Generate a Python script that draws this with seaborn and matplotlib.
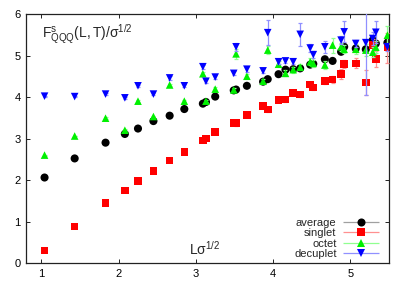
import numpy as np
import matplotlib
matplotlib.use("Agg")
import matplotlib.pyplot as plt
from matplotlib.legend_handler import HandlerErrorbar
import seaborn as sns

# L * sqrt(sigma) values
l_sigma = [1.04, 1.43, 1.83, 2.08, 2.25, 2.45, 2.66, 2.85, 3.09, 3.13,
           3.25, 3.49, 3.52, 3.66, 3.87, 3.93, 4.07, 4.16, 4.26, 4.35,
           4.48, 4.52, 4.67, 4.77, 4.88, 4.92, 5.07, 5.20, 5.29, 5.33, 5.48]

# F_QQQ / sqrt(sigma) per channel (nan = not visible)
average = [2.06, 2.52, 2.90, 3.11, 3.24, 3.42, 3.55, 3.71, 3.84, 3.88,
           4.01, 4.16, 4.18, 4.27, 4.37, 4.43, 4.55, 4.66, 4.67, 4.69,
           4.78, 4.80, 4.91, 4.87, 5.09, 5.21, 5.17, 5.15, 5.37, 5.29, 5.31]
average_err = [0.01, 0.01, 0.01, 0.01, 0.01, 0.01, 0.01, 0.01, 0.02, 0.02,
               0.02, 0.02, 0.02, 0.03, 0.03, 0.03, 0.03, 0.03, 0.03, 0.03,
               0.04, 0.04, 0.04, 0.04, 0.05, 0.05, 0.05, 0.06, 0.06, 0.07, 0.08]

singlet = [0.30, 0.88, 1.45, 1.75, 1.98, 2.21, 2.47, 2.68, 2.95, 3.00,
           3.15, 3.38, 3.37, 3.57, 3.78, 3.70, 3.93, 3.94, 4.10, 4.06,
           4.30, 4.23, 4.39, 4.42, 4.55, 4.79, 4.81, 4.35, 5.25, 4.92, 5.19]
singlet_err = [0.01, 0.01, 0.01, 0.01, 0.01, 0.01, 0.01, 0.02, 0.02, 0.02,
               0.02, 0.04, 0.08, 0.03, 0.04, 0.05, 0.05, 0.05, 0.05, 0.06,
               0.07, 0.07, 0.08, 0.08, 0.12, 0.10, 0.12, 0.30, 0.15, 0.20, 0.36]

octet = [2.60, 3.06, 3.49, 3.20, 3.90, 3.53, 4.29, 3.90, 4.56, 3.90,
         4.19, 4.17, 5.04, 4.50, 4.38, 5.13, 4.79, 4.57, 4.66, 4.72,
         4.85, 4.81, 4.77, 5.25, 5.21, 5.15, 5.15, 5.13, 5.08, 5.20, 5.49]
octet_err = [0.01, 0.01, 0.02, 0.02, 0.02, 0.02, 0.03, 0.03, 0.04, 0.03,
             0.04, 0.04, 0.12, 0.05, 0.05, 0.10, 0.07, 0.07, 0.07, 0.08,
             0.08, 0.08, 0.10, 0.18, 0.10, 0.10, 0.12, 0.15, 0.12, 0.15, 0.22]

decuplet = [4.02, 4.01, 4.07, 3.98, 4.27, 4.07, 4.46, 4.27, 4.73, 4.38,
            4.48, 4.57, 5.21, 4.67, 4.63, 5.55, 4.85, 4.87, 4.85, 5.51,
            5.18, 5.02, 5.21, np.nan, 5.37, 5.57, 5.29, 5.31, 5.41, 5.56, 5.21]
decuplet_err = [0.01, 0.01, 0.02, 0.02, 0.03, 0.03, 0.04, 0.04, 0.05, 0.05,
                0.05, 0.05, 0.10, 0.06, 0.06, 0.30, 0.06, 0.06, 0.06, 0.27,
                0.10, 0.08, 0.15, 0.0, 0.10, 0.25, 0.08, 1.26, 0.15, 0.26, 0.10]

series = [
    ("average", average, average_err, "o", "#000000", "#a0a0a0", 34),
    ("singlet", singlet, singlet_err, "s", "#ff0000", "#ff9090", 30),
    ("octet", octet, octet_err, "^", "#00f000", "#90ff90", 30),
    ("decuplet", decuplet, decuplet_err, "v", "#0000ff", "#9090ff", 30),
]

sns.set_theme(style="ticks")
plt.rcParams["font.family"] = ["Liberation Sans", "DejaVu Sans"]
plt.rcParams["mathtext.fontset"] = "custom"
plt.rcParams["mathtext.rm"] = "Liberation Sans"
plt.rcParams["mathtext.it"] = "Liberation Sans"

fig = plt.figure(figsize=(4.09, 2.86), dpi=100)
ax = fig.add_axes([0.0636, 0.0804, 0.8874, 0.8706])

handles = []
for i, (name, ys, errs, marker, color, ecolor, size) in enumerate(series):
    ax.errorbar(l_sigma, ys, yerr=errs, fmt="none", ecolor=ecolor,
                elinewidth=0.9, capsize=1.5, capthick=0.9, zorder=2 + 2 * i)
    sns.scatterplot(x=l_sigma, y=ys, marker=marker, color=color, s=size,
                    linewidth=0, edgecolor="none", zorder=3 + 2 * i, ax=ax,
                    legend=False)
    # proxy for gnuplot-style key entry
    proxy = ax.errorbar([np.nan], [np.nan], xerr=[1.0], fmt=marker,
                        color=color, ecolor=ecolor, markersize=5.8,
                        markeredgewidth=0, elinewidth=0.9, capsize=2,
                        label=name)
    handles.append(proxy)

ax.set_xlim(0.8, 5.5)
ax.set_ylim(0, 6)
ax.set_xticks([1, 2, 3, 4, 5])
ax.set_yticks([0, 1, 2, 3, 4, 5, 6])
ax.tick_params(direction="in", length=3, width=0.7, labelsize=8,
               top=True, right=True, pad=4, colors="#222222",
               labelcolor="black")
for spine in ax.spines.values():
    spine.set_linewidth(0.9)
    spine.set_color("#222222")

ax.text(0.044, 0.905, r"$\mathrm{F^{s}_{QQQ}(L,T)/\sigma^{1/2}}$",
        transform=ax.transAxes, fontsize=10, va="baseline", ha="left")
ax.text(0.449, 0.032, r"$\mathrm{L\sigma^{1/2}}$",
        transform=ax.transAxes, fontsize=10, va="baseline", ha="left")

ax.legend(handles=handles, loc="lower right", bbox_to_anchor=(0.975, 0.015),
          frameon=False, markerfirst=False, fontsize=8, handlelength=3.4,
          handletextpad=0.5, labelspacing=0.05, borderpad=0, borderaxespad=0,
          handler_map={type(handles[0]): HandlerErrorbar(xerr_size=1.65)})

fig.savefig("out.png", dpi=100)
